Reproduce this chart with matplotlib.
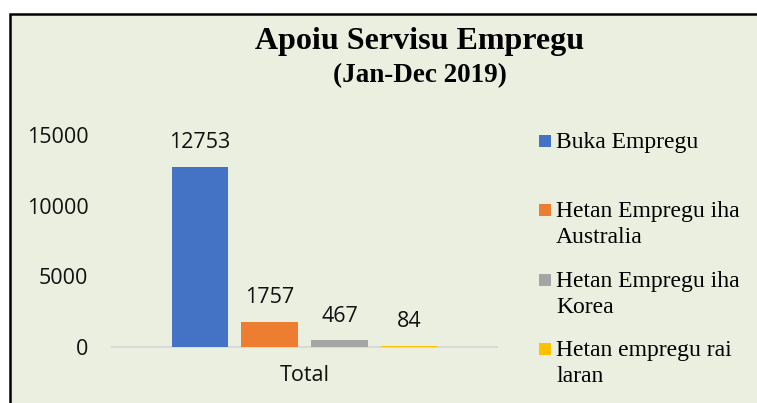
import matplotlib
matplotlib.use("Agg")
import matplotlib.pyplot as plt
from matplotlib.patches import Rectangle

categories = ["Total"]
series_names = ["Buka Empregu", "Hetan Empregu iha\nAustralia",
                "Hetan Empregu iha\nKorea", "Hetan empregu rai\nlaran"]
values = [12753, 1757, 467, 84]
colors = ["#4472C4", "#ED7D31", "#A5A5A5", "#FFC000"]
yticks = [0, 5000, 10000, 15000]

W, H = 757, 403
fig = plt.figure(figsize=(W / 100, H / 100), dpi=100)
fig.patch.set_facecolor("white")

def fx(px):
    return px / W

def fy(py):
    return 1 - py / H

bg = "#EBEFDF"
fig.patches.append(Rectangle((fx(10), fy(420)), fx(800), fy(14) - fy(420),
                             transform=fig.transFigure, facecolor=bg,
                             edgecolor="black", linewidth=1.8, zorder=-5))

ax = fig.add_axes([fx(112), fy(347), fx(497) - fx(112), fy(135) - fy(347)])
ax.set_zorder(5)
ax.set_facecolor("none")
ax.set_xlim(-0.5, 0.5)
ax.set_ylim(0, 15000)

FS = 15.5
offsets = [-0.2727, -0.0909, 0.0909, 0.2727]
width = 0.1455
for off, v, c in zip(offsets, values, colors):
    ax.bar(off, v, width=width, color=c, zorder=3)
    ax.annotate(f"{v}", (off, v), xytext=(0, 17.5), textcoords="offset points",
                ha="center", va="center", fontsize=FS, family="Open Sans",
                color="#111111")

for s in ["top", "right", "left"]:
    ax.spines[s].set_visible(False)
ax.spines["bottom"].set_color("#D9D9D9")
ax.spines["bottom"].set_linewidth(1.5)
ax.spines["bottom"].set_zorder(1)
ax.set_yticks(yticks)
ax.set_yticklabels([str(t) for t in yticks], family="Open Sans", fontsize=FS,
                   color="#111111")
ax.tick_params(axis="y", length=0, pad=17)
ax.set_xticks([0])
ax.set_xticklabels(categories, family="Open Sans", fontsize=FS, color="#111111")
ax.tick_params(axis="x", length=0, pad=13)

fig.text(fx(420), fy(42), "Apoiu Servisu Empregu", ha="center", va="center",
         family="Liberation Serif", fontweight="bold", fontsize=23)
fig.text(fx(420), fy(76), "(Jan-Dec 2019)", ha="center", va="center",
         family="Liberation Serif", fontweight="bold", fontsize=19.5)

legend_y = [141, 210, 280, 349]
for name, c, ly in zip(series_names, colors, legend_y):
    fig.patches.append(Rectangle((fx(539), fy(ly + 6)), fx(12), fy(ly - 6) - fy(ly + 6),
                                 transform=fig.transFigure, facecolor=c,
                                 edgecolor="none"))
    fig.text(fx(556), fy(ly - 9), name, ha="left", va="top",
             family="Liberation Serif", fontsize=17, linespacing=1.3)

fig.savefig("out.png", dpi=100, facecolor=fig.get_facecolor())
